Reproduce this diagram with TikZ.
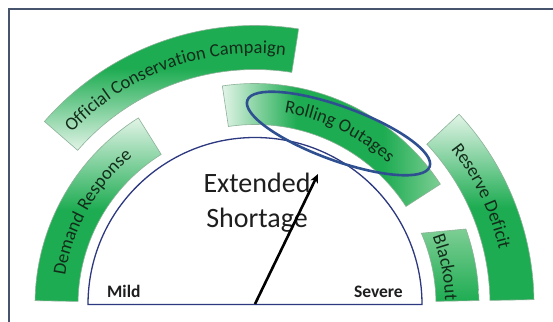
\documentclass[tikz,border=0pt]{standalone}
\usepackage{fontspec}
\setmainfont{Carlito}
\newfontfamily\bandfont{Carlito}
\usetikzlibrary{decorations.text,arrows.meta,shapes.geometric}

\definecolor{gdark}{RGB}{30,172,82}
\definecolor{gmid}{RGB}{125,206,148}
\definecolor{gpale}{RGB}{226,244,231}
\definecolor{bandline}{RGB}{140,178,152}
\definecolor{bandtext}{RGB}{18,44,26}
\definecolor{gaugeline}{RGB}{44,56,128}
\definecolor{ringline}{RGB}{46,80,145}
\definecolor{framecol}{RGB}{70,84,110}
\definecolor{inktext}{RGB}{30,30,30}

% green fades for the severity bands
\pgfdeclareverticalshading{darkbase}{100bp}{color(0bp)=(gdark); color(25bp)=(gdark); color(50bp)=(gdark); color(75bp)=(gpale); color(100bp)=(gpale)}
\pgfdeclareverticalshading{darktop}{100bp}{color(0bp)=(gpale); color(25bp)=(gpale); color(55bp)=(gdark); color(75bp)=(gdark); color(100bp)=(gdark)}
\pgfdeclarehorizontalshading{midband}{100bp}{color(0bp)=(gpale); color(25bp)=(gpale); color(42bp)=(gdark); color(62bp)=(gdark); color(75bp)=(gmid); color(100bp)=(gmid)}
\pgfdeclareverticalshading{softbase}{100bp}{color(0bp)=(gdark); color(25bp)=(gdark); color(75bp)=(gmid); color(100bp)=(gmid)}

\newcommand\bandlbl{\bandfont\fontsize{18.5}{20}\selectfont\color{bandtext}}

% annular band: start angle, end angle, inner radius, outer radius, options
\newcommand\bandshape[5]{%
  \shadedraw[bandbox,#5] (#1:#4) arc[start angle=#1, end angle=#2, radius=#4]
    -- (#2:#3) arc[start angle=#2, end angle=#1, radius=#3] -- cycle;}

\tikzset{
  bandbox/.style={draw=bandline, line width=0.6pt},
  bandlabel/.style={decorate, decoration={text along path, text align=center, text={|\bandlbl|#1}}},
  gauge/.style={fill=white, draw=gaugeline, line width=1.3pt},
  focusring/.style={draw=ringline, line width=2.6pt, ellipse, inner sep=0pt},
  needle/.style={draw=black, line width=2.6pt, -{Stealth[length=9pt,width=8pt]}},
  endlabel/.style={font=\bfseries\fontsize{17.5}{20}\selectfont, text=inktext, inner sep=0pt},
  biglabel/.style={font=\fontsize{28}{34}\selectfont, text=inktext, inner sep=0pt, anchor=base},
}

\begin{document}
\begin{tikzpicture}[x=1pt,y=1pt]
  \useasboundingbox (0,0) rectangle (553,321);
  \fill[white] (0,0) rectangle (553,321);

  % outer frame
  \draw[framecol, line width=2pt] (9,-10) -- (9,312) -- (570,312);

  \begin{scope}[shift={(255,16.5)}]
    % bands around the gauge
    \bandshape{179}{122}{177}{220}{shading=darkbase}
    \bandshape{139}{81}{235}{279}{shading=darktop}
    \bandshape{98.5}{33}{180}{221}{shading=midband}
    \bandshape{43}{1}{235}{279}{shading=darkbase}
    \shadedraw[bandbox, shading=softbase] (1:224) arc[start angle=1, end angle=19.7, radius=224]
      -- (23.2:181) arc[start angle=23.2, end angle=1, radius=181] -- cycle;

    % band captions along the arcs
    \path[bandlabel={Demand Response}] (179:192) arc[start angle=179, end angle=122, radius=192];
    \path[bandlabel={Official Conservation Campaign}] (139:251) arc[start angle=139, end angle=81, radius=251];
    \path[bandlabel={Rolling Outages}] (98:194) arc[start angle=98, end angle=30, radius=194];
    \path[bandlabel={Reserve Deficit}] (45:250) arc[start angle=45, end angle=6, radius=250];
    \path[bandlabel={Blackout}] (30:190) arc[start angle=30, end angle=-8, radius=190];

    % gauge face
    \path[gauge] (-167,0) arc[start angle=180, end angle=0, radius=167] -- cycle;
  \end{scope}

  % highlight ring
  \node[focusring, minimum width=194pt, minimum height=54pt, rotate=-20] (focus) at (338.5,187.5) {};

  % gauge texts
  \node[endlabel, anchor=base west] (mild) at (107,24) {Mild};
  \node[endlabel, anchor=base east] (severe) at (403,24) {Severe};
  \node[biglabel] (ext) at (257,128) {Extended};
  \node[biglabel] (short) at (257,93) {Shortage};

  % needle
  \coordinate (pivot) at (255,17);
  \coordinate (tip) at (318,147);
  \draw[needle] (pivot) -- (tip);
\end{tikzpicture}
\end{document}
